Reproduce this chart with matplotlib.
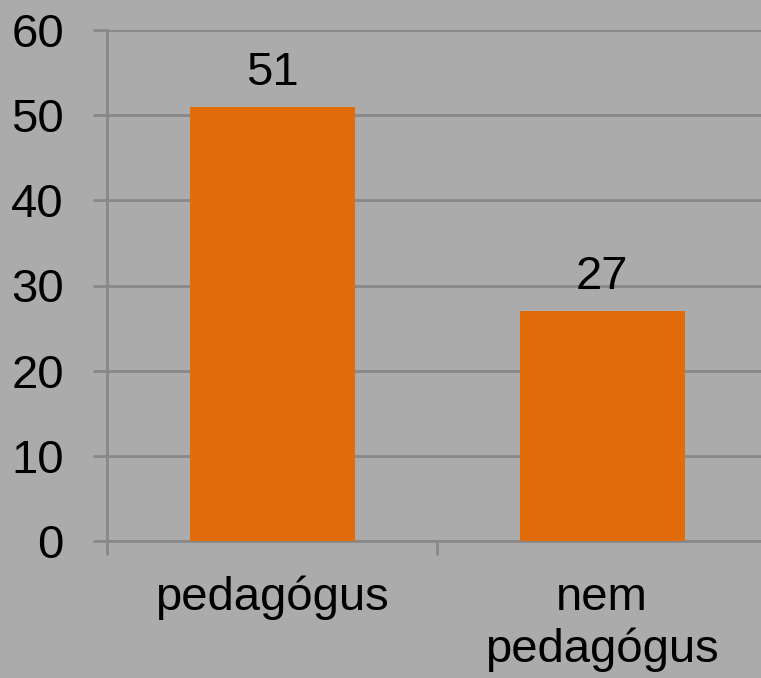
import matplotlib
matplotlib.use("Agg")
import matplotlib.pyplot as plt

categories = ["pedagógus", "nem\npedagógus"]
values = [51, 27]
yticks = [0, 10, 20, 30, 40, 50, 60]

BG = "#ABABAB"
GRID = "#888888"
BAR = "#E36C0A"
FS = 34

plt.rcParams["font.family"] = ["Liberation Sans", "DejaVu Sans"]

fig = plt.figure(figsize=(7.61, 6.78), dpi=100, facecolor=BG)
W, H = 761, 678
ax = fig.add_axes([107 / W, 137 / H, 660 / W, 511 / H])
ax.set_facecolor(BG)

x = list(range(len(categories)))
ax.bar(x, values, width=0.5, color=BAR, zorder=3)

ax.set_xlim(-0.5, 1.5)
ax.set_ylim(0, 60)
ax.set_yticks(yticks)
ax.set_yticklabels([str(t) for t in yticks], fontsize=FS)
ax.yaxis.grid(True, color=GRID, linewidth=2, zorder=0)
ax.set_xticks([-0.5, 0.5, 1.5])
ax.set_xticklabels([])
ax.set_xticks(x, minor=True)
ax.set_xticklabels(categories, minor=True, fontsize=FS, linespacing=1.22)
ax.tick_params(axis="x", which="minor", length=0, pad=25)
ax.tick_params(axis="x", which="major", length=10, width=2, color=GRID)
ax.tick_params(axis="y", length=10, width=2, color=GRID, pad=21)

for s in ["top", "right"]:
    ax.spines[s].set_visible(False)
for s in ["left", "bottom"]:
    ax.spines[s].set_color(GRID)
    ax.spines[s].set_linewidth(2)

for xi, v in zip(x, values):
    ax.annotate(str(v), (xi, v), xytext=(0, 8.5), textcoords="offset points",
                ha="center", va="bottom", fontsize=FS, color="black")

fig.savefig("out.png", dpi=100, facecolor=BG)
